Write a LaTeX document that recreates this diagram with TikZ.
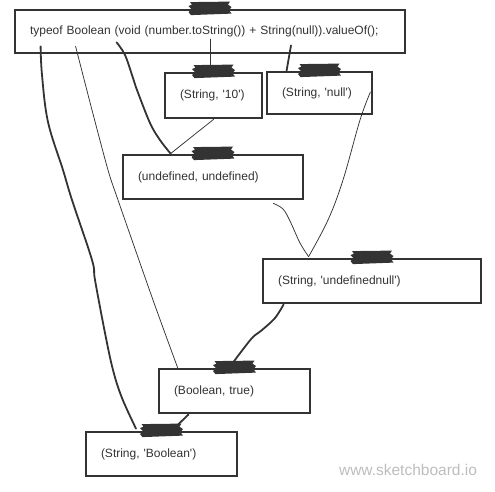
\documentclass[tikz,border=0pt]{standalone}
\usepackage{fontspec}
\setmainfont{Liberation Sans}
\usetikzlibrary{calc}
\definecolor{ink}{HTML}{333333}
\definecolor{wmark}{HTML}{BDBDBD}
\newcommand{\sq}{\textquotesingle}
\begin{document}
\begin{tikzpicture}[x=1pt,y=-1pt,
  box/.style={draw=ink, line width=2.8pt, fill=white, inner xsep=15pt, inner ysep=0pt,
    align=left, text=ink, font=\fontsize{12}{14}\selectfont},
  heavy/.style={draw=ink, line width=1.8pt, line cap=round, line join=round},
  fine/.style={draw=ink, line width=0.75pt, line cap=round, line join=round},
  tape/.pic={\fill[ink] (-20,-6.5) -- (20,-7) -- (18,-4) -- (21.5,-1.5) -- (19,1.5) -- (21.5,5)
     -- (-19,6.5) -- (-21.5,3.5) -- (-18.5,0.5) -- (-21.5,-2.5) -- (-18,-4) -- cycle;}
]
\useasboundingbox (0,0) rectangle (495,491);

% boxes
\node[box, text width=360pt, minimum height=43pt] (top) at (210,31.5)
  {typeof Boolean (void (number.toString()) + String(null)).valueOf();};
\node[box, text width=67pt, minimum height=45pt] (s10) at (213.5,95.5) {(String, \sq10\sq)};
\node[box, text width=75pt, minimum height=42pt] (snull) at (319.5,93) {(String, \sq null\sq)};
\node[box, text width=150pt, minimum height=44pt] (undef) at (213,177) {(undefined, undefined)};
\node[box, text width=188pt, minimum height=44pt] (undnull) at (372,281) {(String, \sq undefinednull\sq)};
\node[box, text width=121pt, minimum height=44pt] (booltrue) at (234.5,391) {(Boolean, true)};
\node[box, text width=121pt, minimum height=44pt] (strbool) at (161.5,454) {(String, \sq Boolean\sq)};

% connector end points
\coordinate (a1) at ($(top.south west)+(27,-8)$);
\coordinate (b1) at ($(strbool.north)+(-25.5,-2)$);
\coordinate (a2) at ($(top.south west)+(62,-8)$);
\coordinate (b2) at ($(booltrue.north west)+(20,0)$);
\coordinate (a3) at ($(top.south west)+(103,-12)$);
\coordinate (b3) at ($(undef.north west)+(49,0)$);
\coordinate (a4) at ($(s10.south)+(0,0)$);
\coordinate (a5) at ($(top.south)+(0.5,-15)$);
\coordinate (b5) at ($(s10.north)+(-3,-1)$);
\coordinate (a6) at ($(top.south)+(81,-9)$);
\coordinate (b6) at ($(snull.north west)+(21,0)$);
\coordinate (a7) at ($(snull.east)+(-3,-1)$);
\coordinate (b7) at ($(undnull.north west)+(47,-1)$);
\coordinate (a8) at ($(undef.south east)+(-31,3)$);
\coordinate (a9) at ($(undnull.south west)+(22,0)$);
\coordinate (b9) at ($(booltrue.north)+(-1.5,-5)$);
\coordinate (a10) at ($(booltrue.south west)+(31,0)$);
\coordinate (b10) at ($(strbool.north)+(16.5,-6)$);

% connectors
\draw[heavy] plot[smooth, tension=0.6] coordinates
  {(a1) (42,75) (48,122) (63,170) (72,200) (92,260) (95,280) (105,333) (113,370) (122,398) (b1)};
\draw[fine] plot[smooth, tension=0.5] coordinates
  {(a2) (92,110) (108,170) (118,200) (153,300) (b2)};
\draw[heavy] plot[smooth, tension=0.6] coordinates
  {(a3) (125,55) (133,78) (137,90) (150,123) (160,140) (b3)};
\draw[fine] (a4) -- (b3);
\draw[heavy] (a5) -- (b5);
\draw[heavy] (a6) -- (b6);
\draw[fine] plot[smooth, tension=0.6] coordinates
  {(a7) (360,120) (343,180) (328,220) (b7)};
\draw[fine] plot[smooth, tension=0.6] coordinates
  {(a8) (283,209) (290,221) (300,243) (b7)};
\draw[heavy] plot[smooth, tension=0.6] coordinates
  {(a9) (275,318) (262,330) (253,337) (244,348) (b9)};
\draw[heavy] (a10) -- (b10);

% tapes
\foreach \n in {top,s10,snull,undef,undnull,booltrue,strbool}
  \pic at (\n.north) {tape};

% watermark
\node[text=wmark, font=\fontsize{15.5}{17}\selectfont, inner sep=0pt] (wm) at (408,470) {www.sketchboard.io};
\end{tikzpicture}
\end{document}
